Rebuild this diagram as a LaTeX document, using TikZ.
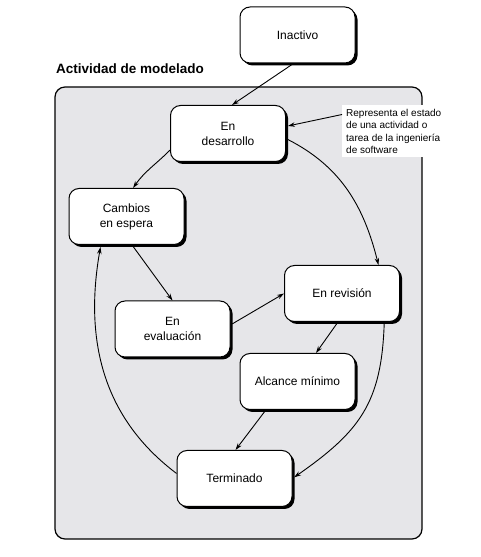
\documentclass[tikz,border=0pt]{standalone}
\usepackage{fontspec}
\setmainfont{Liberation Sans}
\usepackage{xcolor}
\usetikzlibrary{arrows.meta,shadows}
\definecolor{panelgray}{RGB}{230,230,233}

\begin{document}
\begin{tikzpicture}
		[x=1pt,y=1pt,>={Stealth[length=7pt,width=4.5pt]},
		state/.style={rectangle,rounded corners=10pt,draw=black,fill=white,line width=1pt,minimum width=115pt,minimum height=56pt,align=center,font=\fontsize{12}{15}\selectfont,drop shadow={shadow xshift=2.5pt,shadow yshift=-2.5pt,fill=black,opacity=1}},
		note/.style={rectangle,fill=white,inner xsep=4pt,inner ysep=4pt,align=left,font=\fontsize{10}{12.3}\selectfont},
		link/.style={->,line width=0.9pt}]
		\useasboundingbox (0,0) rectangle (480,557);
		\draw [fill=panelgray,line width=1.2pt,rounded corners=10pt] (55,18) rectangle (422,470);
		\node [anchor=west,inner sep=0pt,font=\fontsize{13.5}{15}\selectfont\bfseries] (t1) at (56,488) {Actividad de modelado};
		\node [state] (e1) at (297.5,522) {Inactivo};
		\node [state] (e2) at (228,423.5) {En\\desarrollo};
		\node [state] (e3) at (126.5,340.5) {Cambios\\en espera};
		\node [state] (e4) at (342,263.5) {En revisión};
		\node [state] (e5) at (172.5,228) {En\\evaluación};
		\node [state] (e6) at (297.5,175.5) {Alcance mínimo};
		\node [state] (e7) at (234.5,78.5) {Terminado};
		\node [note,anchor=north west] (n1) at (342,452) {Representa el estado\\de una actividad o\\tarea de la ingeniería\\de software};

		\draw [link,shorten <=2pt] (e1.-98) -- (e2.82);
		\draw [link,shorten >=2pt] (n1.162) -- (e2.7);
		\draw [link] (e2.196) to [out=225,in=55] (e3.77);
		\draw [link,shorten <=2pt] (e2.-5) to [out=-27,in=104] (e4.38);
		\draw [link,shorten <=2pt] (e3.-79) -- (e5.north);
		\draw [link,shorten <=2pt] (e5.4) -- (e4.west);
		\draw [link,shorten <=2pt] (e4.-98) -- (e6.57);
		\draw [link,shorten <=2pt] (e6.-138) -- (e7.88);
		\draw [link,shorten <=2pt,shorten >=2pt] (e4.-34) to [out=-92,in=35,looseness=1.15] (e7.east);
		\draw [link,shorten >=2pt] (e7.175) to [out=143,in=-100] (e3.-132);
	\end{tikzpicture}
\end{document}
